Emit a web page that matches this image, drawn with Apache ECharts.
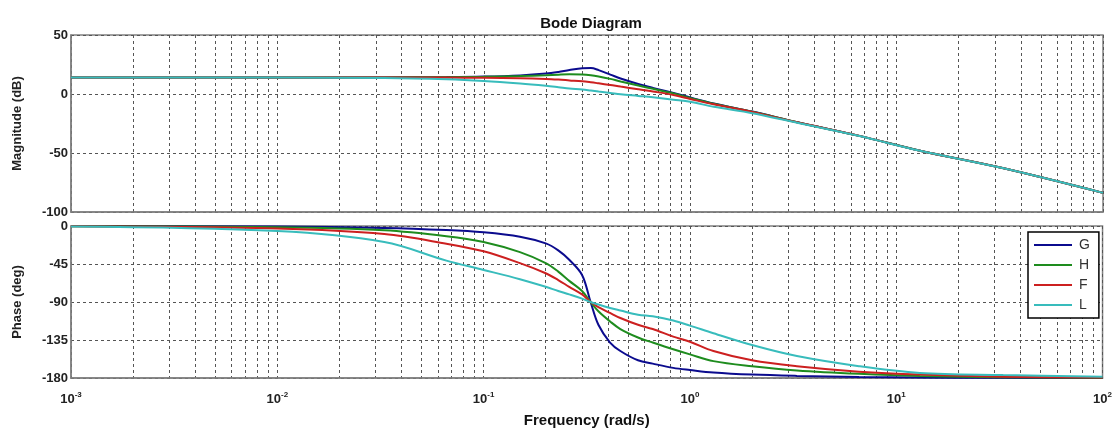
<!DOCTYPE html>
<html>
<head>
<meta charset="utf-8">
<script src="https://cdn.jsdelivr.net/npm/echarts@6/dist/echarts.min.js"></script>
<style>
  html, body { margin: 0; padding: 0; background: #fff; }
  #chart { width: 1115px; height: 430px; }
</style>
</head>
<body>
<div id="chart"></div>
<script>
// frequency points (rad/s)
const freqs = [0.001, 0.01, 0.033, 0.066, 0.1, 0.15, 0.2, 0.23, 0.26, 0.3, 0.33, 0.36, 0.41, 0.46, 0.56, 0.66, 0.83, 1, 1.3, 2, 3.3, 6.6, 13, 33, 100];

// magnitude (dB)
const magG = [14, 14, 14.08, 14.32, 14.74, 15.75, 17.3, 18.7, 20.35, 21.81, 21.96, 20.24, 16.47, 13.08, 8.44, 5.16, 0.94, -3.0, -8.07, -14.9, -23.92, -35.5, -48.08, -63, -83.8];
const magH = [14, 14, 14.06, 14.24, 14.53, 15.16, 15.94, 16.41, 16.68, 16.56, 15.94, 14.87, 12.81, 10.62, 7.16, 4.37, 0.51, -3.3, -8.22, -14.96, -23.94, -35.5, -48.08, -63, -83.8];
const magF = [14, 14, 13.98, 13.9, 13.75, 13.38, 12.76, 12.2, 11.53, 10.76, 9.92, 9.03, 7.65, 6.26, 4.1, 2.16, -0.89, -4.2, -8.75, -15.2, -24.02, -35.5, -48.08, -63, -83.8];
const magL = [14, 13.96, 13.55, 12.42, 11.0, 8.87, 6.95, 5.8, 4.74, 3.77, 2.87, 2.03, 0.87, -0.2, -1.63, -2.84, -4.86, -6.6, -10.86, -16.28, -24.45, -35.66, -48.1, -63, -83.8];

// phase (deg)
const phG = [0, -0.7, -2.3, -4.8, -7.5, -12.7, -20.6, -28.8, -40, -58, -90, -117, -138, -148, -159, -163, -168, -170.5, -173.5, -176, -177.5, -178.8, -179.4, -179.8, -179.9];
const phH = [-0.2, -1.5, -5, -12, -19, -31, -44, -54, -65, -77, -90, -101, -113, -122, -132, -138, -146, -152, -160, -166, -171, -175, -177.5, -179, -179.7];
const phF = [-0.3, -3, -9.5, -21, -30, -44, -56, -64, -72, -81, -90, -96, -103, -109, -117, -122, -131, -137, -148, -159, -166, -172.5, -176, -178.5, -179.5];
const phL = [-0.6, -6, -19, -41, -52, -63, -72, -77, -81, -86, -90, -93, -97, -100, -105, -107, -112, -118, -127, -141, -154, -166, -174, -176.5, -178.5];

const names = ['G', 'H', 'F', 'L'];
const mags = [magG, magH, magF, magL];
const phases = [phG, phH, phF, phL];
const colors = ['#0b0b8e', '#1e8c1e', '#cc2020', '#38bcbc'];

const chart = echarts.init(document.getElementById('chart'));

const font = "'Liberation Sans', Arial, sans-serif";
const gridLine = { show: true, lineStyle: { color: '#555', type: [3, 3], width: 1 } };

const xAxisBase = (gridIndex, showLabels) => ({
  type: 'log',
  logBase: 10,
  gridIndex: gridIndex,
  min: 0.001,
  max: 100,
  axisLine: { show: true, onZero: false, lineStyle: { color: '#808080', width: 1.5 } },
  axisTick: { show: false },
  minorTick: { show: false, splitNumber: 9 },
  splitLine: gridLine,
  minorSplitLine: gridLine,
  axisLabel: {
    show: showLabels,
    margin: 13,
    fontFamily: font,
    fontWeight: 'bold',
    fontSize: 13,
    color: '#222',
    formatter: v => '10{s|' + Math.round(Math.log10(v)) + '}',
    rich: { s: { fontSize: 8, fontWeight: 'bold', fontFamily: font, verticalAlign: 'top', padding: [0, 0, 9, 0] } }
  }
});

const yAxisBase = (gridIndex, min, max, interval, name) => ({
  type: 'value',
  gridIndex: gridIndex,
  min: min,
  max: max,
  interval: interval,
  name: name,
  nameLocation: 'middle',
  nameGap: 47,
  nameTextStyle: { fontFamily: font, fontWeight: 'bold', fontSize: 13, color: '#222' },
  axisLine: { show: true, lineStyle: { color: '#808080', width: 1.5 } },
  axisTick: { show: false },
  splitLine: gridLine,
  axisLabel: { fontFamily: font, fontWeight: 'bold', fontSize: 13, color: '#222', margin: 3 }
});

const series = [];
names.forEach((n, i) => {
  series.push({
    name: n, type: 'line', xAxisIndex: 0, yAxisIndex: 0,
    data: freqs.map((f, k) => [f, mags[i][k]]),
    showSymbol: false, smooth: 0.35,
    lineStyle: { color: colors[i], width: 2 }, itemStyle: { color: colors[i] }
  });
  series.push({
    name: n, type: 'line', xAxisIndex: 1, yAxisIndex: 1,
    data: freqs.map((f, k) => [f, phases[i][k]]),
    showSymbol: false, smooth: 0.35,
    lineStyle: { color: colors[i], width: 2 }, itemStyle: { color: colors[i] }
  });
});

const option = {
  backgroundColor: '#fff',
  animation: false,
  title: {
    text: 'Bode Diagram',
    left: 586,
    textAlign: 'center',
    top: 11,
    textStyle: { fontFamily: font, fontWeight: 'bold', fontSize: 15, color: '#111' }
  },
  legend: {
    data: names,
    orient: 'vertical',
    left: 1028,
    top: 232,
    padding: [6, 9, 6, 6],
    itemGap: 6,
    itemWidth: 38,
    itemHeight: 2,
    icon: 'rect',
    backgroundColor: '#fff',
    borderColor: '#000',
    borderWidth: 1.5,
    textStyle: { fontFamily: font, fontSize: 14, color: '#333', padding: [0, 0, 0, 2] }
  },
  grid: [
    { left: 71, top: 35, width: 1032, height: 177, show: true, borderColor: '#808080', borderWidth: 1.5 },
    { left: 71, top: 226, width: 1032, height: 152, show: true, borderColor: '#808080', borderWidth: 1.5 }
  ],
  xAxis: [
    xAxisBase(0, false),
    Object.assign(xAxisBase(1, true), {
      name: 'Frequency (rad/s)',
      nameLocation: 'middle',
      nameGap: 35,
      nameTextStyle: { fontFamily: font, fontWeight: 'bold', fontSize: 15, color: '#111' }
    })
  ],
  yAxis: [
    yAxisBase(0, -100, 50, 50, 'Magnitude (dB)'),
    yAxisBase(1, -180, 0, 45, 'Phase (deg)')
  ],
  series: series
};

chart.setOption(option);
</script>
</body>
</html>
